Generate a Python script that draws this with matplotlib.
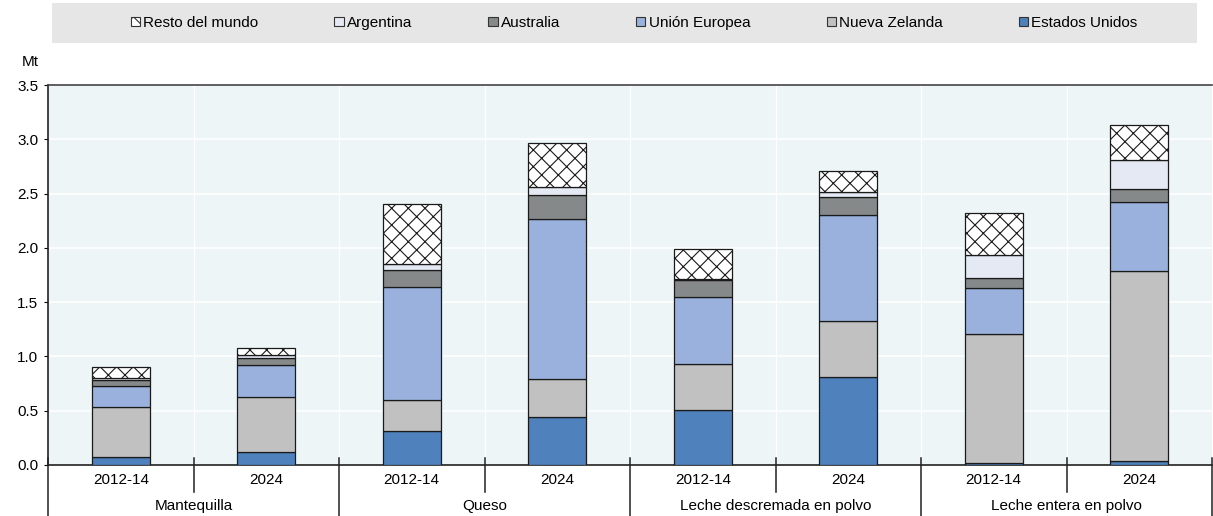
import matplotlib
matplotlib.use("Agg")
import matplotlib.pyplot as plt
from matplotlib import font_manager
from matplotlib.patches import Patch, Rectangle
import numpy as np

# fuente estrecha si existe
names = {f.name for f in font_manager.fontManager.ttflist}
FONT = "Liberation Sans Narrow" if "Liberation Sans Narrow" in names else "Liberation Sans"
plt.rcParams["font.family"] = [FONT, "DejaVu Sans"]
plt.rcParams["hatch.linewidth"] = 0.8

# datos (Mt)
productos = ["Mantequilla", "Queso", "Leche descremada en polvo", "Leche entera en polvo"]
periodos = ["2012-14", "2024"]
estados_unidos = [0.07, 0.12, 0.31, 0.44, 0.51, 0.81, 0.02, 0.04]
nueva_zelanda = [0.46, 0.51, 0.29, 0.35, 0.42, 0.52, 1.19, 1.75]
union_europea = [0.20, 0.29, 1.04, 1.48, 0.62, 0.97, 0.42, 0.63]
australia = [0.05, 0.07, 0.16, 0.22, 0.15, 0.17, 0.09, 0.12]
argentina = [0.02, 0.02, 0.05, 0.07, 0.01, 0.04, 0.21, 0.27]
resto_mundo = [0.10, 0.07, 0.55, 0.41, 0.28, 0.20, 0.39, 0.32]

series = [
    ("Estados Unidos", estados_unidos, "#4f81bd", None),
    ("Nueva Zelanda", nueva_zelanda, "#c0c1c0", None),
    ("Unión Europea", union_europea, "#99b1dc", None),
    ("Australia", australia, "#868989", None),
    ("Argentina", argentina, "#e5e9f3", None),
    ("Resto del mundo", resto_mundo, "white", "xx"),
]

W, H = 1213, 516
fig = plt.figure(figsize=(W / 100, H / 100), dpi=100)
ax = fig.add_axes([48 / W, (H - 465) / H, (1212 - 48) / W, (465 - 85) / H])
ax.set_facecolor("#edf5f7")

x = np.arange(len(estados_unidos))
bottom = np.zeros(len(x))
handles = {}
for name, vals, color, hatch in series:
    vals = np.array(vals)
    ax.bar(x, vals, 0.4, bottom=bottom, color=color, edgecolor="#1a1a1a",
           linewidth=0.9, hatch=hatch, zorder=3)
    handles[name] = Patch(facecolor=color, edgecolor="#333333", linewidth=0.8, hatch=hatch)
    bottom += vals

ax.set_xlim(-0.5, len(x) - 0.5)
ax.set_ylim(0, 3.5)
ax.set_yticks(np.arange(0, 3.51, 0.5))
ax.set_yticklabels([f"{v:.1f}" for v in np.arange(0, 3.51, 0.5)], fontsize=11)
ax.tick_params(axis="y", length=3, width=0.8, pad=4)
ax.set_xticks([])
for v in np.arange(0.5, 3.5, 0.5):
    ax.axhline(v, color="white", linewidth=1.2, zorder=1)
for b in np.arange(0.5, len(x) - 0.5, 1):
    ax.axvline(b, color="white", linewidth=1.0, zorder=1)

ax.spines["right"].set_visible(False)
ax.spines["top"].set_color("#444444")
ax.spines["top"].set_linewidth(1.2)
for s in ["left", "bottom"]:
    ax.spines[s].set_color("#222222")
    ax.spines[s].set_linewidth(1.2)

# etiquetas del eje x en dos niveles
trans = ax.get_xaxis_transform()
for i in x:
    ax.text(i, -0.04, periodos[i % 2], transform=trans, ha="center", va="center", fontsize=11)
for g, prod in enumerate(productos):
    ax.text(2 * g + 0.5, -0.108, prod, transform=trans, ha="center", va="center", fontsize=11)
# separadores
for b in np.arange(-0.5, len(x), 1):
    low = -0.135 if int(b + 0.5) % 2 == 0 else -0.072
    ax.plot([b, b], [0.018, low], transform=trans, color="#222222",
            linewidth=1.1, clip_on=False, zorder=4)

fig.text(22 / W, (H - 62) / H, "Mt", fontsize=11, ha="left", va="center")

# banda gris de la leyenda
fig.patches.append(Rectangle((52 / W, (H - 43) / H), (1197 - 52) / W, 40 / H,
                             transform=fig.transFigure, facecolor="#e6e6e6",
                             edgecolor="none", zorder=0))
orden = ["Resto del mundo", "Argentina", "Australia", "Unión Europea", "Nueva Zelanda", "Estados Unidos"]
fig.legend([handles[n] for n in orden], orden, ncol=6, loc="center",
           bbox_to_anchor=(634 / W, (H - 23) / H), frameon=False, fontsize=11,
           handlelength=0.6, handleheight=0.6, handletextpad=0.2,
           columnspacing=5.0, borderaxespad=0)

fig.savefig("out.png", dpi=100)
